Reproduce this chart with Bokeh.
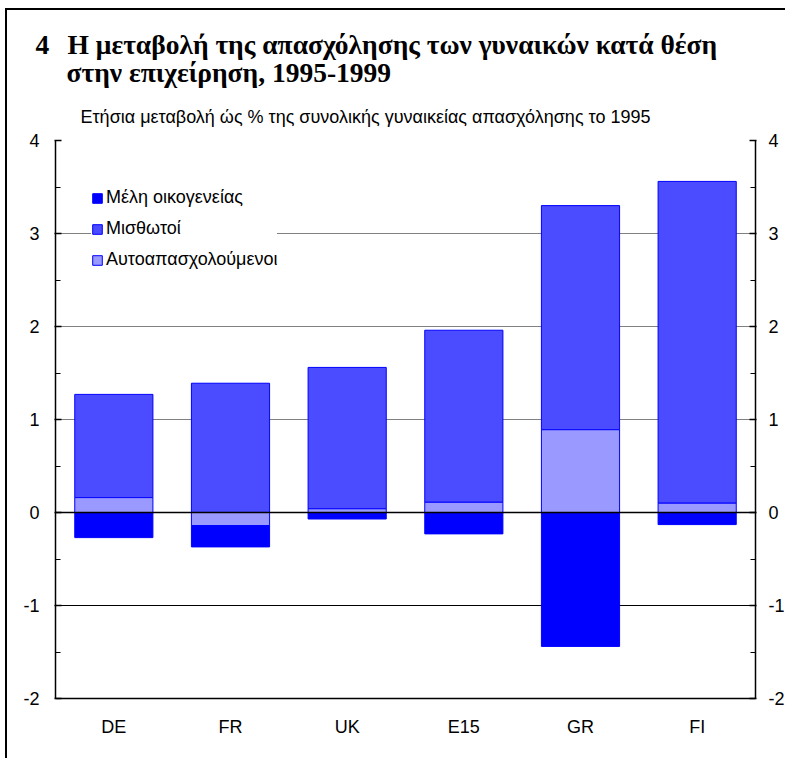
from bokeh.plotting import figure
from bokeh.models import (FixedTicker, LinearAxis, Span, Title, Legend, LegendItem,
                          ColumnDataSource, Range1d, FactorRange)
from bokeh.embed import file_html
from bokeh.resources import INLINE

# ---- data ----
countries = ["DE", "FR", "UK", "E15", "GR", "FI"]
family = [-0.27, -0.23, -0.07, -0.23, -1.44, -0.13]       # Μέλη οικογενείας
employees = [1.11, 1.39, 1.52, 1.85, 2.41, 3.46]           # Μισθωτοί
self_employed = [0.16, -0.14, 0.04, 0.11, 0.89, 0.10]      # Αυτοαπασχολούμενοι
y_ticks = [-2, -1, 0, 1, 2, 3, 4]
y_minor = [-1.5, -0.5, 0.5, 1.5, 2.5, 3.5]
series_names = ["Μέλη οικογενείας", "Μισθωτοί", "Αυτοαπασχολούμενοι"]
title_l1 = "4\u2002\u2006Η μεταβολή της απασχόλησης των γυναικών κατά θέση"
title_l2 = "στην επιχείρηση, 1995-1999"
subtitle = "Ετήσια μεταβολή ώς % της συνολικής γυναικείας απασχόλησης το 1995"

# stacking: positives upward (self-employed then employees), negatives downward (self-employed then family)
se_bot = [0.0] * len(countries)
se_top = list(self_employed)
emp_bot = [max(s, 0.0) for s in self_employed]
emp_top = [b + e for b, e in zip(emp_bot, employees)]
fam_top = [min(s, 0.0) for s in self_employed]
fam_bot = [t + f for t, f in zip(fam_top, family)]

src = ColumnDataSource(dict(x=countries, se_bot=se_bot, se_top=se_top,
                            emp_bot=emp_bot, emp_top=emp_top,
                            fam_top=fam_top, fam_bot=fam_bot))

W, H = 780, 750
p = figure(width=W, height=H, x_range=FactorRange(*countries, range_padding=0),
           y_range=Range1d(-2, 4), output_backend="svg", toolbar_location=None,
           min_border_left=48, min_border_right=32, min_border_top=130, min_border_bottom=62)
p.x_range.factor_padding = 0
p.outline_line_color = None
p.background_fill_color = "white"
p.border_fill_color = "white"
p.styles = {"margin-left": "5px", "margin-top": "8px",
            "border-left": "2px solid #000", "border-top": "2px solid #000"}

r_fam = p.vbar(x="x", top="fam_top", bottom="fam_bot", width=0.67, source=src,
               fill_color="#0000FF", line_color="#0000FF", line_width=1)
r_emp = p.vbar(x="x", top="emp_top", bottom="emp_bot", width=0.67, source=src,
               fill_color="#4B4BFF", line_color="#0000FF", line_width=1)
r_se = p.vbar(x="x", top="se_top", bottom="se_bot", width=0.67, source=src,
              fill_color="#9999FF", line_color="#0000FF", line_width=1)

# grid
p.xgrid.grid_line_color = None
p.ygrid.grid_line_color = "#808080"
p.ygrid.grid_line_width = 1
p.add_layout(Span(location=-1, dimension="width", line_color="black", line_width=1, level="underlay"))
p.add_layout(Span(location=0, dimension="width", line_color="black", line_width=1.5))

ticker = FixedTicker(ticks=y_ticks, minor_ticks=y_minor)
overrides = {t: str(t) for t in y_ticks}
p.ygrid.ticker = ticker
ya = p.yaxis[0]
ya.ticker = ticker
ya.axis_line_color = "black"
ya.axis_line_width = 1.5
ya.major_tick_in = 6
ya.major_tick_out = 1
ya.minor_tick_in = 5
ya.minor_tick_out = 0
ya.major_tick_line_width = 1.5
ya.major_label_text_font = "Liberation Sans"
ya.major_label_text_font_size = "18px"
ya.major_label_text_color = "black"
ya.major_label_standoff = 15
ya.major_label_overrides = overrides

rax = LinearAxis(ticker=ticker, axis_line_color="black", axis_line_width=1.5,
                 major_tick_in=6, major_tick_out=1, minor_tick_in=5, minor_tick_out=0,
                 major_tick_line_width=1.5,
                 major_label_text_font="Liberation Sans", major_label_text_font_size="18px",
                 major_label_text_color="black", major_label_standoff=12,
                 major_label_overrides=overrides)
p.add_layout(rax, "right")

xa = p.xaxis[0]
xa.axis_line_color = "black"
xa.axis_line_width = 1.5
xa.major_tick_line_color = None
xa.minor_tick_line_color = None
xa.major_label_text_font = "Liberation Sans"
xa.major_label_text_font_size = "18px"
xa.major_label_text_color = "black"
xa.major_label_standoff = 12

legend = Legend(items=[LegendItem(label=series_names[0], renderers=[r_fam]),
                       LegendItem(label=series_names[1], renderers=[r_emp]),
                       LegendItem(label=series_names[2], renderers=[r_se])],
                location=(36, 428), orientation="vertical",
                label_text_font="Liberation Sans", label_text_font_size="18px",
                label_text_color="black", glyph_width=12, glyph_height=12,
                label_standoff=3, spacing=10, label_height=20, padding=14, margin=0,
                border_line_color=None, background_fill_color="white", background_fill_alpha=1)
p.add_layout(legend)

# titles: the first one added sits closest to the plot
p.add_layout(Title(text=subtitle, text_font="Liberation Sans", text_font_size="18px",
                   text_font_style="normal", text_color="black", align="left",
                   offset=25, standoff=27), "above")
p.add_layout(Title(text=title_l2, text_font="Liberation Serif", text_font_size="27.5px",
                   text_font_style="bold", text_color="black", align="left",
                   offset=11, standoff=8), "above")
p.add_layout(Title(text=title_l1, text_font="Liberation Serif", text_font_size="27.5px",
                   text_font_style="bold", text_color="black", align="left",
                   offset=-20, standoff=-18), "above")

open("out.html", "w").write(file_html(p, INLINE))
